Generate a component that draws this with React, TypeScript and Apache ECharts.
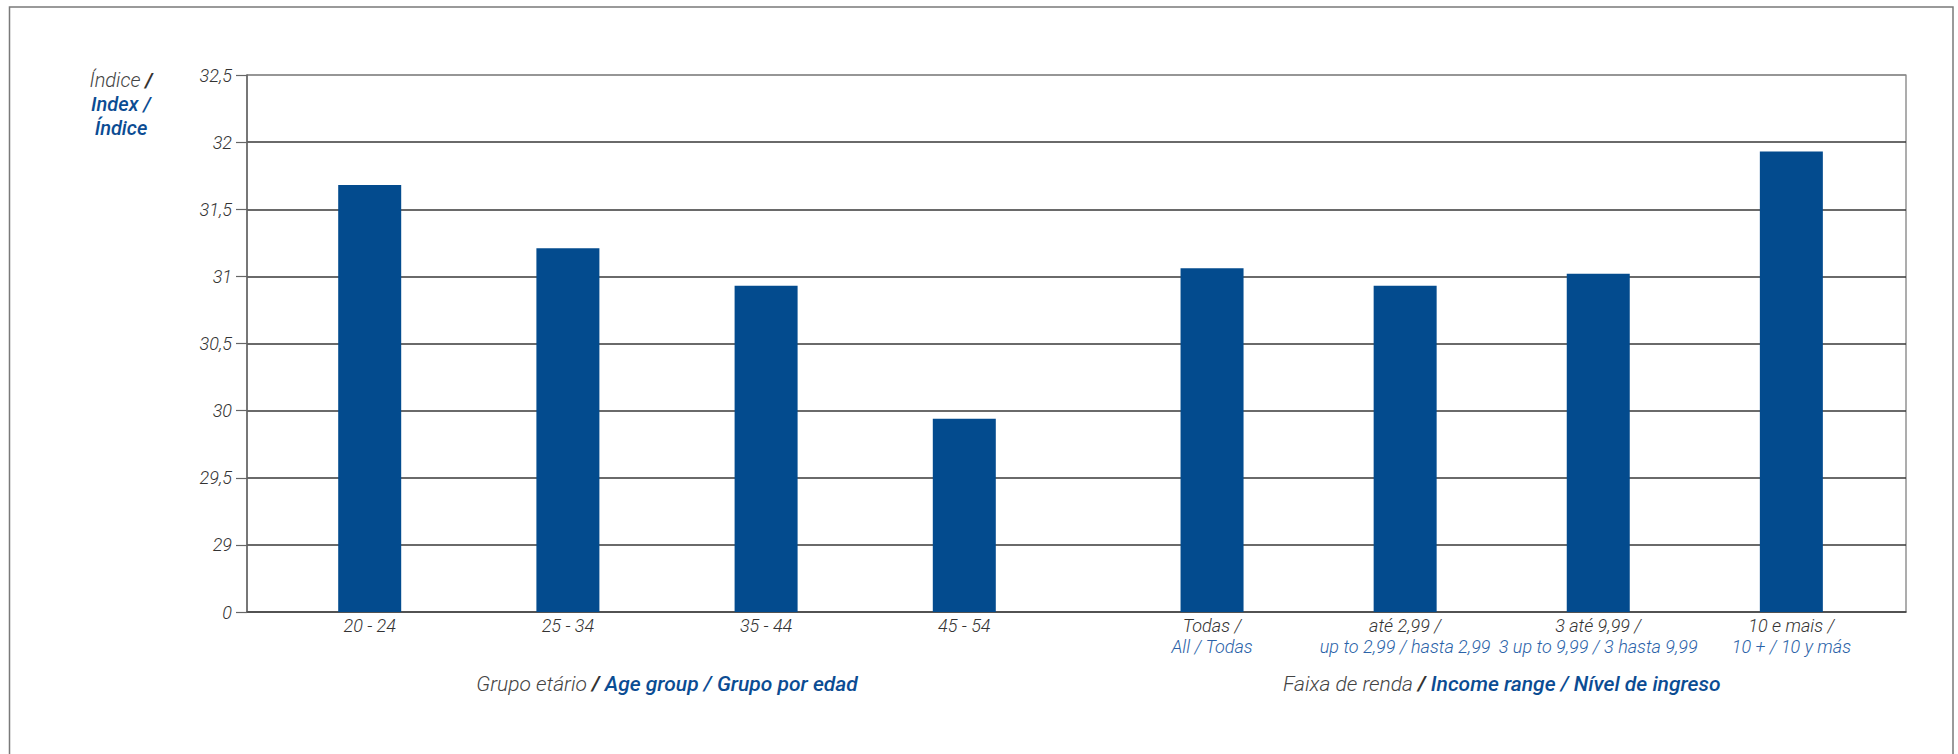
import React, { useEffect, useRef } from "react";
import * as echarts from "echarts";

const ageCategories = ["20 - 24", "25 - 34", "35 - 44", "45 - 54"];
const ageValues = [31.68, 31.21, 30.93, 29.94];

const incomeCategoriesPt = ["Todas /", "até 2,99 /", "3 até 9,99 /", "10 e mais /"];
const incomeCategoriesEn = ["All / Todas", "up to 2,99 / hasta 2,99", "3 up to 9,99 / 3 hasta 9,99", "10 + / 10 y más"];
const incomeValues = [31.06, 30.93, 31.02, 31.93];

// Broken axis: the lowest tick (28.5) is labelled "0"
const yMin = 28.5;
const yMax = 32.5;
const yStep = 0.5;

const FONT = "Roboto, 'Liberation Sans', sans-serif";
const GRAY = "#333333";
const BLUE = "#0b4c93";
const BLUE2 = "#2a62a8";
const BAR = "#034b8e";

export default function App() {
  const ref = useRef<HTMLDivElement>(null);

  useEffect(() => {
    if (!ref.current) return;
    const chart = echarts.init(ref.current, undefined, { renderer: "svg" });

    const gridTop = 75;
    const gridHeight = 537;

    const hiddenY = (idx: number) => ({
      type: "value" as const,
      gridIndex: idx,
      min: yMin,
      max: yMax,
      interval: yStep,
      show: false,
    });

    const nameRich = {
      g: { fontFamily: FONT, fontStyle: "italic", fontSize: 21, fontWeight: 300, color: "#444" },
      s: { fontFamily: FONT, fontStyle: "italic", fontSize: 21, fontWeight: "bold", color: "#333" },
      b: { fontFamily: FONT, fontStyle: "italic", fontSize: 21, fontWeight: 500, color: BLUE },
    };

    const nLines = Math.round((yMax - yMin) / yStep);
    const lineColors: string[] = [];
    for (let i = 0; i <= nLines; i++) {
      lineColors.push(i === nLines ? "#8a8a8a" : "#383838");
    }

    chart.setOption({
      animation: false,
      backgroundColor: "#ffffff",
      grid: [
        { left: 247, top: gridTop, width: 1659, height: gridHeight, show: true, borderColor: "#777", borderWidth: 1.2, containLabel: false },
        { left: 270.6, top: gridTop, width: 792.8, height: gridHeight, containLabel: false },
        { left: 1115.5, top: gridTop, width: 772.4, height: gridHeight, containLabel: false },
      ],
      xAxis: [
        {
          type: "value",
          gridIndex: 0,
          min: 0,
          max: 1,
          axisLine: { show: true, onZero: false, lineStyle: { color: "#505050", width: 1.5 } },
          axisTick: { show: false },
          axisLabel: { show: false },
          splitLine: { show: false },
        },
        {
          type: "category",
          gridIndex: 1,
          data: ageCategories,
          axisLine: { show: false },
          axisTick: { show: false },
          axisLabel: {
            interval: 0,
            margin: 3,
            fontFamily: FONT,
            fontStyle: "italic",
            fontSize: 18,
            fontWeight: 300,
            color: GRAY,
            lineHeight: 21,
          },
          name: "{g|Grupo etário }{s|/}{b| Age group / Grupo por edad}",
          nameLocation: "middle",
          nameGap: 61,
          nameTextStyle: { rich: nameRich },
        },
        {
          type: "category",
          gridIndex: 2,
          data: incomeCategoriesPt,
          axisLine: { show: false },
          axisTick: { show: false },
          axisLabel: {
            interval: 0,
            margin: 3,
            formatter: (v: string, i: number) => `{a|${v}}\n{b|${incomeCategoriesEn[i]}}`,
            rich: {
              a: { fontFamily: FONT, fontStyle: "italic", fontSize: 18, fontWeight: 300, color: GRAY, lineHeight: 21 },
              b: { fontFamily: FONT, fontStyle: "italic", fontSize: 18, fontWeight: 300, color: BLUE2, lineHeight: 21 },
            },
          },
          name: "{g|Faixa de renda }{s|/}{b| Income range / Nível de ingreso}",
          nameLocation: "middle",
          nameGap: 61,
          nameTextStyle: { rich: nameRich },
        },
      ],
      yAxis: [
        {
          type: "value",
          gridIndex: 0,
          min: yMin,
          max: yMax,
          interval: yStep,
          axisLine: { show: true, lineStyle: { color: "#666", width: 1.5 } },
          axisTick: { show: true, length: 11, lineStyle: { color: "#666", width: 1.2 } },
          axisLabel: {
            margin: 15,
            fontFamily: FONT,
            fontStyle: "italic",
            fontSize: 18,
            fontWeight: 300,
            color: GRAY,
            formatter: (v: number) => (v <= yMin + 1e-9 ? "0" : String(v).replace(".", ",")),
          },
          splitLine: { show: true, lineStyle: { color: lineColors, width: 1.7 } },
        },
        hiddenY(1),
        hiddenY(2),
      ],
      series: [
        {
          type: "bar",
          xAxisIndex: 1,
          yAxisIndex: 1,
          data: ageValues,
          barWidth: 63,
          itemStyle: { color: BAR },
          clip: true,
        },
        {
          type: "bar",
          xAxisIndex: 2,
          yAxisIndex: 2,
          data: incomeValues,
          barWidth: 63,
          itemStyle: { color: BAR },
          clip: true,
        },
      ],
      graphic: [
        {
          type: "rect",
          shape: { x: 9.5, y: 7, width: 1943.5, height: 900 },
          style: { fill: "none", stroke: "#7a7a7a", lineWidth: 1.5 },
          silent: true,
        },
        {
          type: "text",
          x: 121,
          y: 68,
          style: {
            text: "{g|Índice }{s|/}\n{b|Index /}\n{b|Índice}",
            align: "center",
            rich: {
              g: { fontFamily: FONT, fontStyle: "italic", fontSize: 20, fontWeight: 300, fill: "#444", lineHeight: 24 },
              s: { fontFamily: FONT, fontStyle: "italic", fontSize: 20, fontWeight: "bold", fill: "#333", lineHeight: 24 },
              b: { fontFamily: FONT, fontStyle: "italic", fontSize: 20, fontWeight: 500, fill: BLUE, lineHeight: 24 },
            },
          },
        },
      ],
    });

    return () => chart.dispose();
  }, []);

  return (
    <div
      ref={ref}
      style={{ position: "fixed", left: 0, top: 0, width: 1958, height: 754, background: "#fff" }}
    />
  );
}
